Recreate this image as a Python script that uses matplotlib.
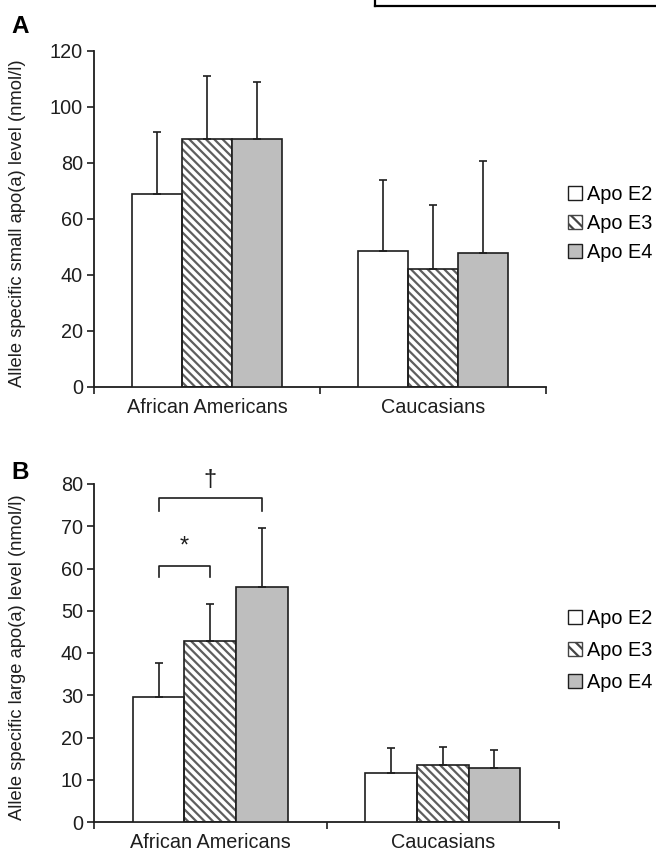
import numpy as np
import matplotlib
matplotlib.use("Agg")
import matplotlib.pyplot as plt
from matplotlib.patches import Patch
from matplotlib.lines import Line2D

plt.rcParams['font.family'] = ['Liberation Sans', 'DejaVu Sans']
plt.rcParams['hatch.linewidth'] = 1.6

# ---------------- data ----------------
groups = ["African Americans", "Caucasians"]
series = ["Apo E2", "Apo E3", "Apo E4"]

# Panel A: small apo(a)
a_means = {"Apo E2": [69.0, 48.7], "Apo E3": [88.5, 42.0], "Apo E4": [88.5, 47.7]}
a_errs = {"Apo E2": [22.0, 25.3], "Apo E3": [22.5, 23.0], "Apo E4": [20.5, 33.0]}
a_yticks = [0, 20, 40, 60, 80, 100, 120]
a_ylabel = "Allele specific small apo(a) level (nmol/l)"

# Panel B: large apo(a)
b_means = {"Apo E2": [29.7, 11.5], "Apo E3": [42.8, 13.4], "Apo E4": [55.7, 12.8]}
b_errs = {"Apo E2": [8.0, 5.9], "Apo E3": [8.9, 4.4], "Apo E4": [14.0, 4.3]}
b_yticks = [0, 10, 20, 30, 40, 50, 60, 70, 80]
b_ylabel = "Allele specific large apo(a) level (nmol/l)"

# significance brackets (panel B, African Americans): (from, to, top, drop, label, label_y)
sig_brackets = [("Apo E2", "Apo E3", 60.7, 57.9, "*", 62.6),
                ("Apo E2", "Apo E4", 76.8, 73.5, "\u2020", 78.4)]

# ---------------- styles ----------------
HATCH = "\\\\\\\\"
styles = {
    "Apo E2": dict(facecolor="white", hatch=None, hcolor=None),
    "Apo E3": dict(facecolor="white", hatch=HATCH, hcolor="#5e5e5e"),
    "Apo E4": dict(facecolor="#bebebe", hatch=None, hcolor=None),
}
ink = "#1e1e1e"
FS = 14.3
W, H = 656, 856
fig = plt.figure(figsize=(W / 100, H / 100), dpi=100)


def px_axes(left, top, right, bottom):
    return fig.add_axes([left / W, 1 - bottom / H, (right - left) / W, (bottom - top) / H])


def draw_panel(ax, means, errs, yticks, ylabel, width_px, height_px):
    x = np.arange(len(groups))
    w = 0.222
    for i, s in enumerate(series):
        st = styles[s]
        pos = x + (i - 1) * w
        if st["hatch"]:
            ax.bar(pos, means[s], w, facecolor=st["facecolor"], edgecolor=st["hcolor"],
                   hatch=st["hatch"], linewidth=0, zorder=2)
            ax.bar(pos, means[s], w, facecolor="none", edgecolor=ink, linewidth=1.2, zorder=3)
        else:
            ax.bar(pos, means[s], w, facecolor=st["facecolor"], edgecolor=ink,
                   linewidth=1.2, zorder=3)
        ax.errorbar(pos, means[s], yerr=[np.zeros(len(groups)), errs[s]], fmt="none",
                    ecolor=ink, elinewidth=1.2, capsize=2.8, capthick=1.2, zorder=4)
    ax.set_xlim(-0.5, len(groups) - 0.5)
    ax.set_ylim(yticks[0], yticks[-1])
    ax.set_yticks(yticks)
    ax.set_xticks(x)
    ax.set_xticklabels(groups, fontsize=FS, color=ink)
    ax.set_xticks(np.arange(len(groups) + 1) - 0.5, minor=True)
    ax.tick_params(axis="x", which="major", length=0, pad=8)
    ax.tick_params(axis="x", which="minor", length=5, width=1.2, direction="out", color=ink)
    ax.tick_params(axis="y", length=5, width=1.2, direction="out", color=ink,
                   labelsize=FS, labelcolor=ink, pad=3)
    for sp in ("top", "right"):
        ax.spines[sp].set_visible(False)
    for sp in ("left", "bottom"):
        ax.spines[sp].set_linewidth(1.3)
        ax.spines[sp].set_color(ink)
    ax.set_ylabel(ylabel, fontsize=13.2, color=ink)
    ax.yaxis.set_label_coords((26 - 94) / width_px, 0.5 - 4 / height_px)
    return w


def legend_handles():
    hs = []
    for s in series:
        st = styles[s]
        if st["hatch"]:
            hs.append(Patch(facecolor="white", edgecolor="#444444", hatch="\\\\\\", linewidth=1.0))
        else:
            hs.append(Patch(facecolor=st["facecolor"], edgecolor=ink, linewidth=1.0))
    return hs


# Panel A
axA = px_axes(94, 51, 546, 387)
draw_panel(axA, a_means, a_errs, a_yticks, a_ylabel, 452, 336)
fig.legend(legend_handles(), series, loc="upper left", bbox_to_anchor=(568 / W, 1 - 185 / H),
           frameon=False, fontsize=FS, handlelength=0.7, handleheight=0.7,
           handletextpad=0.25, labelspacing=0.5, borderpad=0, borderaxespad=0)

# Panel B
axB = px_axes(94, 484, 559, 822)
w = draw_panel(axB, b_means, b_errs, b_yticks, b_ylabel, 465, 338)
fig.legend(legend_handles(), series, loc="upper left", bbox_to_anchor=(568 / W, 1 - 609 / H),
           frameon=False, fontsize=FS, handlelength=0.7, handleheight=0.7,
           handletextpad=0.25, labelspacing=0.65, borderpad=0, borderaxespad=0)

centers = {s: (i - 1) * w for i, s in enumerate(series)}
for s0, s1, top, drop, lab, ly in sig_brackets:
    x0, x1 = centers[s0], centers[s1]
    axB.plot([x0, x0, x1, x1], [drop, top, top, drop], color=ink, lw=1.2, clip_on=False)
    axB.text((x0 + x1) / 2, ly, lab, ha="center", va="bottom", fontsize=17, color=ink,
             clip_on=False)

# panel letters
fig.text(11 / W, 1 - 33 / H, "A", fontsize=17.5, fontweight="bold", color="black")
fig.text(11 / W, 1 - 479 / H, "B", fontsize=17.5, fontweight="bold", color="black")

# partial frame at the top right (cropped box from the source page)
fig.add_artist(Line2D([375 / W, 1.0], [1 - 6 / H, 1 - 6 / H], color="black", lw=1.6,
                      transform=fig.transFigure))
fig.add_artist(Line2D([375 / W, 375 / W], [1 - 6 / H, 1.0], color="black", lw=1.6,
                      transform=fig.transFigure))

fig.savefig("out.png", dpi=100, facecolor="white")
